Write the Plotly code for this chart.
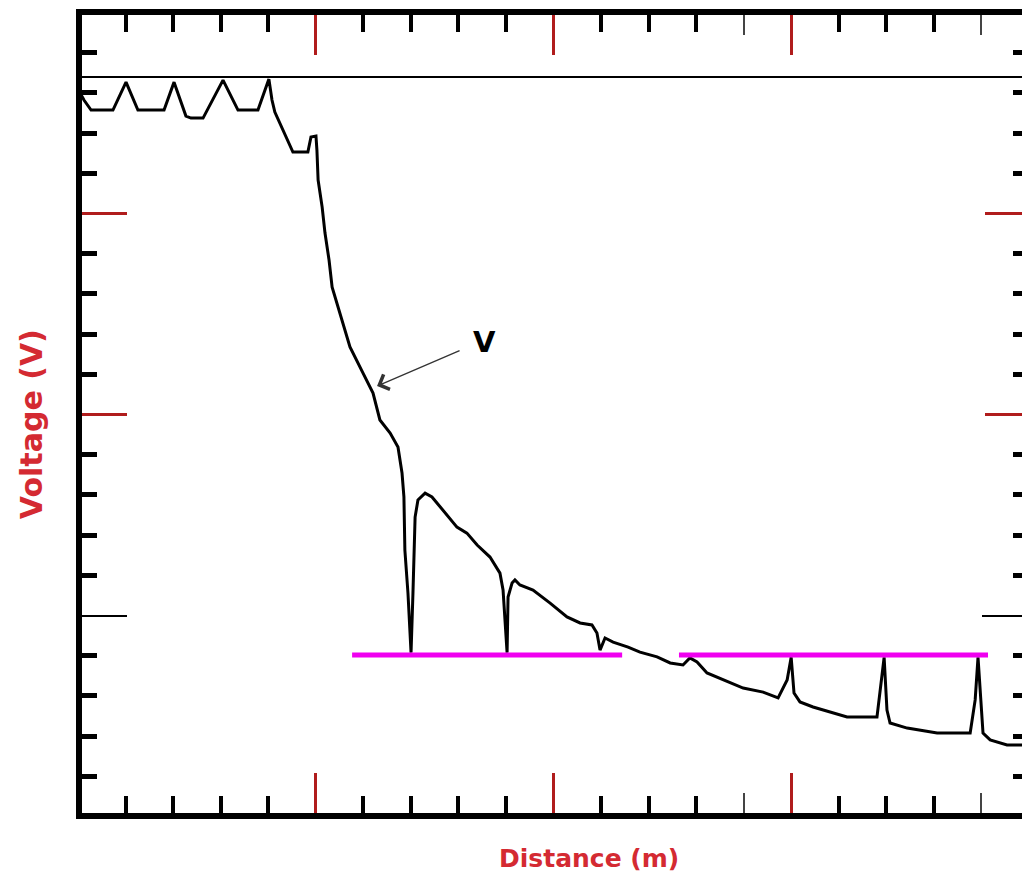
import plotly.graph_objects as go

# ---- data ----
distance_m = [0.000, 0.025, 0.055, 0.147, 0.202, 0.252, 0.362, 0.404, 0.454, 0.475,
              0.526, 0.610, 0.673, 0.757, 0.803, 0.816, 0.828, 0.904, 0.967, 0.980,
              1.001, 1.005, 1.010, 1.027, 1.039, 1.056, 1.069, 1.102, 1.144, 1.199,
              1.241, 1.270, 1.313, 1.346, 1.363, 1.371, 1.375, 1.388, 1.401, 1.409,
              1.418, 1.430, 1.460, 1.489, 1.523, 1.594, 1.636, 1.679, 1.733, 1.775,
              1.788, 1.796, 1.805, 1.809, 1.826, 1.838, 1.859, 1.914, 1.986, 2.057,
              2.112, 2.162, 2.183, 2.196, 2.217, 2.251, 2.314, 2.364, 2.436, 2.491,
              2.545, 2.574, 2.604, 2.646, 2.714, 2.798, 2.882, 2.945, 2.983, 3.000,
              3.012, 3.037, 3.092, 3.164, 3.235, 3.361, 3.374, 3.391, 3.403, 3.416,
              3.488, 3.614, 3.753, 3.774, 3.786, 3.799, 3.807, 3.837, 3.908, 3.971]
voltage_v = [3.619, 3.565, 3.515, 3.515, 3.654, 3.515, 3.515, 3.654, 3.485, 3.475,
             3.475, 3.664, 3.515, 3.515, 3.669, 3.565, 3.505, 3.306, 3.306, 3.381,
             3.386, 3.316, 3.167, 3.032, 2.903, 2.769, 2.634, 2.505, 2.336, 2.206,
             2.107, 1.973, 1.908, 1.838, 1.709, 1.590, 1.326, 1.112, 0.815, 1.112,
             1.490, 1.575, 1.609, 1.590, 1.540, 1.440, 1.410, 1.351, 1.291, 1.211,
             1.127, 0.993, 0.815, 1.092, 1.162, 1.177, 1.152, 1.127, 1.062, 0.993,
             0.963, 0.953, 0.913, 0.828, 0.888, 0.868, 0.843, 0.818, 0.794, 0.764,
             0.754, 0.789, 0.769, 0.714, 0.679, 0.639, 0.619, 0.590, 0.679, 0.792,
             0.614, 0.570, 0.545, 0.520, 0.495, 0.495, 0.629, 0.792, 0.530, 0.465,
             0.440, 0.415, 0.415, 0.580, 0.792, 0.580, 0.415, 0.381, 0.356, 0.356]

ref_x = [0.0, 4.0]
ref_v = [3.679, 3.679]
band1_x = [1.153, 2.289]
band2_x = [2.528, 3.828]
band_v = [0.803, 0.803]

arrow_tip_x, arrow_tip_v = 1.258, 2.142
label_x, label_v = 1.712, 2.361

major_x = [1, 2, 3]
thin_minor_x = [2.8, 3.8]
minor_x = [round(0.2 * i, 1) for i in range(1, 20) if i % 5 and round(0.2 * i, 1) not in thin_minor_x]
major_y = [2, 3]
thin_y = [1]
minor_y = [round(0.2 * i, 1) for i in range(1, 20) if i % 5]

XR = [0.0168, 3.971]
YR = [0.0174, 3.988]

TICK_RED = "#b01c1c"
TITLE_RED = "#d42a32"
FONT = "Arial, Liberation Sans, sans-serif"
TITLE_FONT = "DejaVu Sans, Verdana, sans-serif"

fig = go.Figure()
fig.add_trace(go.Scatter(x=ref_x, y=ref_v, mode="lines",
                         line=dict(color="black", width=2), showlegend=False, hoverinfo="skip"))
fig.add_trace(go.Scatter(x=distance_m, y=voltage_v, mode="lines",
                         line=dict(color="black", width=3), showlegend=False))
for bx in (band1_x, band2_x):
    fig.add_trace(go.Scatter(x=bx, y=band_v, mode="lines",
                             line=dict(color="#f000f0", width=5), showlegend=False, hoverinfo="skip"))
# placeholder traces so the overlay tick axes exist
for ya in ("y2", "y3", "y4"):
    fig.add_trace(go.Scatter(x=[None], y=[None], yaxis=ya, showlegend=False, hoverinfo="skip"))
for xa in ("x2", "x3"):
    fig.add_trace(go.Scatter(x=[None], y=[None], xaxis=xa, showlegend=False, hoverinfo="skip"))

common = dict(showgrid=False, zeroline=False, showticklabels=False)

fig.update_layout(
    width=1022, height=875,
    margin=dict(l=82, r=0, t=15, b=62),
    paper_bgcolor="white", plot_bgcolor="white",
    font=dict(family=FONT),
    xaxis=dict(range=XR, showline=True, linewidth=6, linecolor="black", mirror="ticks",
               ticks="inside", tickmode="array", tickvals=major_x, ticklen=40, tickwidth=3,
               tickcolor=TICK_RED,
               minor=dict(tickmode="array", tickvals=minor_x, ticks="inside", ticklen=17,
                          tickwidth=4, tickcolor="black", showgrid=False),
               **common),
    xaxis2=dict(range=XR, overlaying="x", side="bottom", anchor="y", showline=False,
                ticks="inside", tickmode="array", tickvals=thin_minor_x, ticklen=20,
                tickwidth=2, tickcolor="#444444", **common),
    xaxis3=dict(range=XR, overlaying="x", side="top", anchor="y", showline=False,
                ticks="inside", tickmode="array", tickvals=thin_minor_x, ticklen=20,
                tickwidth=2, tickcolor="#444444", **common),
    yaxis=dict(range=YR, showline=True, linewidth=6, linecolor="black", mirror=False,
               ticks="inside", tickmode="array", tickvals=major_y, ticklen=45, tickwidth=3,
               tickcolor=TICK_RED,
               minor=dict(tickmode="array", tickvals=minor_y, ticks="inside", ticklen=15,
                          tickwidth=5, tickcolor="black", showgrid=False),
               **common),
    yaxis2=dict(range=YR, overlaying="y", side="left", anchor="x", showline=False,
                ticks="inside", tickmode="array", tickvals=thin_y, ticklen=45, tickwidth=2,
                tickcolor="black", **common),
    yaxis3=dict(range=YR, overlaying="y", side="right", anchor="x", showline=False,
                ticks="inside", tickmode="array", tickvals=major_y, ticklen=37, tickwidth=3,
                tickcolor=TICK_RED,
                minor=dict(tickmode="array", tickvals=minor_y, ticks="inside", ticklen=9,
                           tickwidth=5, tickcolor="black", showgrid=False),
                **common),
    yaxis4=dict(range=YR, overlaying="y", side="right", anchor="x", showline=False,
                ticks="inside", tickmode="array", tickvals=thin_y, ticklen=40, tickwidth=2,
                tickcolor="black", **common),
)

fig.add_annotation(x=arrow_tip_x, y=arrow_tip_v, xref="x", yref="y", ax=84, ay=-36,
                   text="", showarrow=True, arrowhead=4, arrowsize=2.4, arrowwidth=1.3,
                   arrowcolor="#333333")
fig.add_annotation(x=label_x, y=label_v, xref="x", yref="y", text="V", showarrow=False,
                   font=dict(size=29, color="black", family=TITLE_FONT, weight="bold"))
fig.add_annotation(x=0.539, y=-0.0564, xref="paper", yref="paper", text="Distance (m)",
                   showarrow=False, yanchor="middle",
                   font=dict(size=25, color=TITLE_RED, family=TITLE_FONT, weight="bold"))
fig.add_annotation(x=-0.053, y=0.4875, xref="paper", yref="paper", text="Voltage (V)",
                   textangle=-90, showarrow=False, xanchor="center", yanchor="middle",
                   font=dict(size=30, color=TITLE_RED, family=TITLE_FONT, weight="bold"))

# remove the browser's default 8px page margin so the figure fills the window exactly
fig.write_html("out.html",
               config={"displayModeBar": False},
               post_script="document.body.style.margin='0';document.body.style.overflow='hidden';")
